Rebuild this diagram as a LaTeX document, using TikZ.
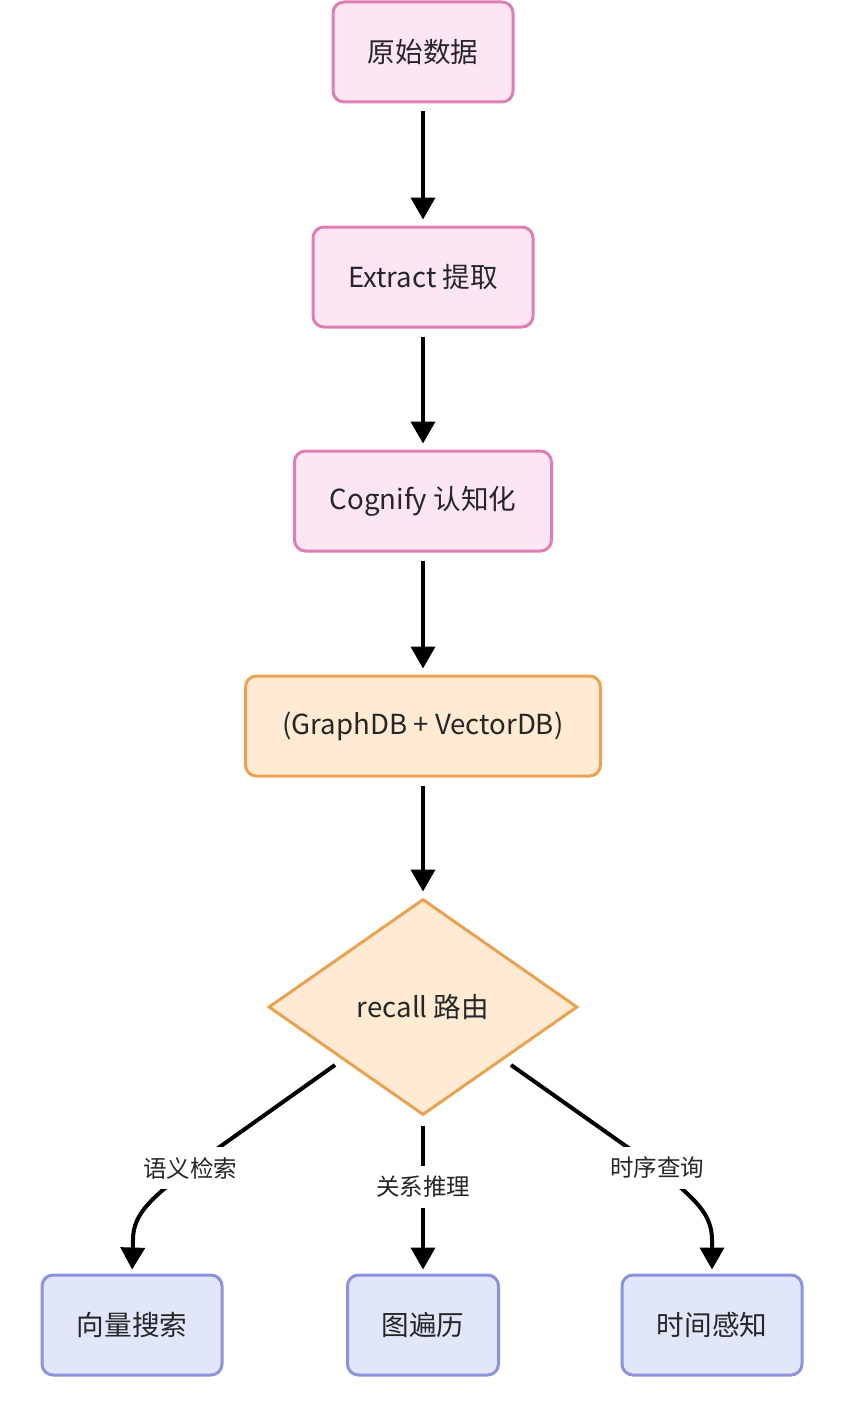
\documentclass[tikz,border=0pt]{standalone}
\usepackage{fontspec}
\setmainfont{Noto Sans CJK SC}
\usetikzlibrary{shapes.geometric,arrows.meta}
\definecolor{pinkfill}{HTML}{FDE6F3}
\definecolor{pinkline}{HTML}{E07DB4}
\definecolor{orfill}{HTML}{FFEBD3}
\definecolor{orline}{HTML}{EBA152}
\definecolor{bluefill}{HTML}{E1E6FB}
\definecolor{blueline}{HTML}{8C93DC}
\definecolor{txt}{HTML}{262626}
\tikzset{
  basebox/.style={rectangle, rounded corners=11pt, line width=3pt, minimum height=100pt,
    inner sep=0pt, text=txt, font=\fontsize{27.6}{32}\selectfont},
  pinkbox/.style={basebox, draw=pinkline, fill=pinkfill},
  orbox/.style={basebox, draw=orline, fill=orfill},
  bluebox/.style={basebox, draw=blueline, fill=bluefill, minimum width=180pt},
  flow/.style={line width=4pt, -{Triangle[length=22pt,width=24pt]}},
  elabel/.style={fill=white, inner xsep=6pt, inner ysep=10pt, text=txt, font=\fontsize{23.5}{28}\selectfont},
}
\begin{document}
\begin{tikzpicture}[x=1pt,y=-1pt]
\useasboundingbox (0,0) rectangle (846,1418);
\node[pinkbox, minimum width=180pt] (raw) at (423,52) {原始数据};
\node[pinkbox, minimum width=220pt] (ext) at (423,277) {Extract 提取};
\node[pinkbox, minimum width=257pt] (cog) at (423,501) {Cognify 认知化};
\node[orbox, minimum width=355pt] (db) at (423,726) {(GraphDB + VectorDB)};
\node[diamond, aspect=1.43, draw=orline, fill=orfill, line width=3pt, inner sep=0pt,
  minimum width=309pt, minimum height=216pt, text=txt, font=\fontsize{27.6}{32}\selectfont] (rec) at (423,1007) {recall 路由};
\node[bluebox] (v1) at (132,1325) {向量搜索};
\node[bluebox, minimum width=151pt] (v2) at (423,1325) {图遍历};
\node[bluebox] (v3) at (712,1325) {时间感知};

\draw[flow, shorten <=8pt, shorten >=6pt] (raw) -- (ext);
\draw[flow, shorten <=8pt, shorten >=6pt] (ext) -- (cog);
\draw[flow, shorten <=8pt, shorten >=6pt] (cog) -- (db);
\draw[flow, shorten <=8pt, shorten >=6pt] (db) -- (rec);

\coordinate (sl) at (335,1065);
\coordinate (sm) at (423,1126);
\coordinate (sr) at (511,1065);
\coordinate (bl) at (190,1168);
\coordinate (br) at (657,1168);
\draw[flow, shorten >=4pt] (sl) -- (bl) .. controls (152,1198) and (133,1213) .. (133,1240) -- (v1.north);
\draw[flow, shorten >=4pt] (sm) -- (v2.north);
\draw[flow, shorten >=4pt] (sr) -- (br) .. controls (694,1198) and (712,1213) .. (712,1240) -- (v3.north);
\node[elabel] (l1) at (bl) {语义检索};
\node[elabel] (l2) at (423,1187) {关系推理};
\node[elabel] (l3) at (br) {时序查询};
\end{tikzpicture}
\end{document}
